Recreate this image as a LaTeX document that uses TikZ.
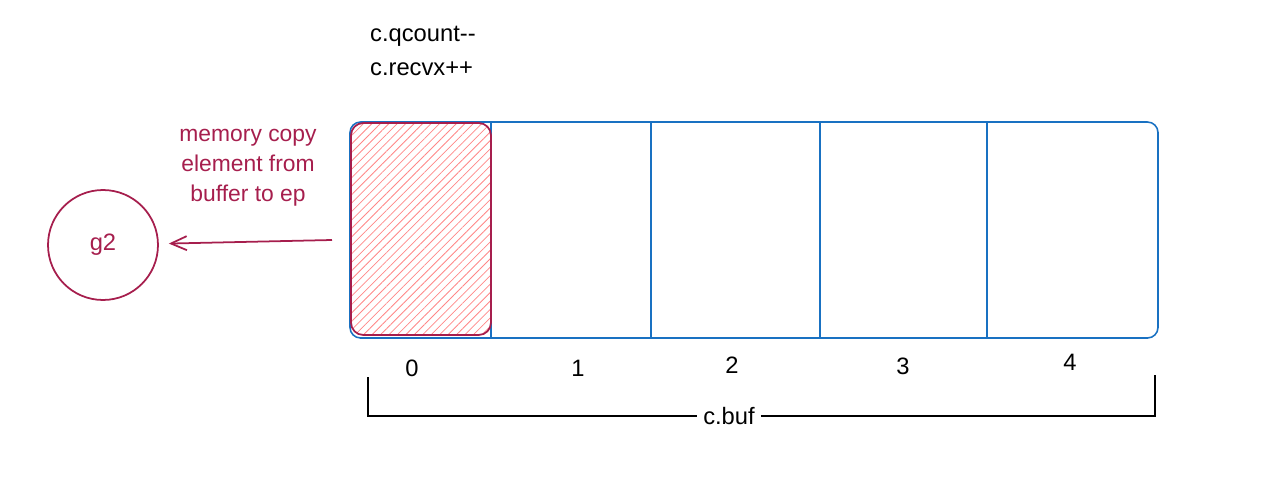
\documentclass[tikz,border=0pt]{standalone}
\usepackage{fontspec}
\setmainfont{Liberation Sans}
\usetikzlibrary{arrows.meta, patterns.meta, positioning}
\definecolor{bufblue}{HTML}{1971C2}
\definecolor{wine}{HTML}{A61E4D}
\definecolor{hatch}{HTML}{FF8787}
\tikzstyle{bufline} = [draw=bufblue, line width=0.9pt, rounded corners=6pt]
\tikzstyle{divline} = [draw=bufblue, line width=0.9pt]
\tikzstyle{slotfill} = [draw=wine, line width=1pt, rounded corners=7pt, pattern={Lines[angle=45, distance=3.4pt, line width=0.45pt]}, pattern color=hatch]
\tikzstyle{wnode} = [circle, draw=wine, line width=1pt, minimum size=2.2cm, text=wine, font=\fontsize{13.5}{15}\selectfont]
\tikzstyle{note} = [text=wine, align=center, font=\fontsize{13}{17}\selectfont]
\tikzstyle{plain} = [font=\fontsize{13.5}{15}\selectfont]
\tikzstyle{wire} = [draw=wine, line width=1pt, -{Straight Barb[length=9pt, width=8pt]}]
\tikzstyle{line} = [draw, line width=0.9pt]

\begin{document}
\begin{tikzpicture}[x=0.02cm, y=-0.02cm]
			\useasboundingbox (0,0) rectangle (1286,504);

			% the buffer and its slots
			\path [bufline] (350,122) rectangle (1158,338);
			\foreach \x in {491,651,820,987}
				\path [divline] (\x,122) -- (\x,338);
			\path [slotfill] (351,123) rectangle (491,335);

			% text above the buffer
			\node [plain, anchor=west] (qcount) at (364,36) {c.qcount\mbox{-}\mbox{-}};
			\node [plain, anchor=west] (recvx) at (364,69) {c.recvx++};

			% copy to the receiver
			\node [wnode] (g2) at (103,245) {g2};
			\node [note] (copy) at (248,168) {memory copy\\element from\\buffer to ep};
			\coordinate (src) at (332,240);
			\path [wire, shorten >=0.2cm] (src) -- (g2);

			% slot indices
			\node [plain] (i0) at (412,368) {0};
			\node [plain] (i1) at (578,368) {1};
			\node [plain] (i2) at (732,365) {2};
			\node [plain] (i3) at (903,366) {3};
			\node [plain] (i4) at (1070,362) {4};

			% bracket
			\node [plain] (cbuf) at (729,416) {c.buf};
			\coordinate (bl) at (368,377);
			\coordinate (br) at (1155,375);
			\path [line] (bl) |- (cbuf.west);
			\path [line] (cbuf.east) -| (br);
		\end{tikzpicture}
\end{document}
